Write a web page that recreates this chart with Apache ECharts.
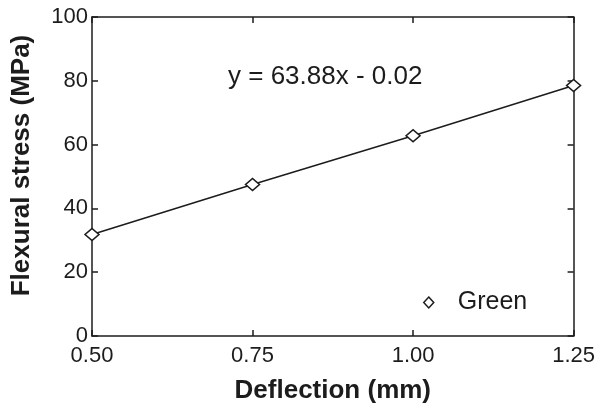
<!DOCTYPE html>
<html>
<head>
<meta charset="utf-8">
<script src="https://cdn.jsdelivr.net/npm/echarts@6/dist/echarts.min.js"></script>
<style>html,body{margin:0;padding:0;background:#fff}#c{width:598px;height:414px}</style>
</head>
<body>
<div id="c"></div>
<script>
var deflection = [0.50, 0.75, 1.00, 1.25];
var stressGreen = [31.8, 47.5, 62.8, 78.5];
var seriesName = 'Green';
var equationText = 'y = 63.88x - 0.02';
var xTitle = 'Deflection (mm)';
var yTitle = 'Flexural stress (MPa)';

var FONT = '"Liberation Sans", Arial, sans-serif';
var INK = '#1c1c1c';
var chart = echarts.init(document.getElementById('c'), null, {renderer: 'canvas'});

var data = deflection.map(function (x, i) { return [x, stressGreen[i]]; });

var xCommon = {
  type: 'value', min: 0.5, max: 1.25, interval: 0.25,
  axisLine: {show: true, onZero: false, lineStyle: {color: INK, width: 1.5}},
  axisTick: {show: true, inside: true, length: 6, lineStyle: {color: INK, width: 1.5}},
  splitLine: {show: false}
};
var yCommon = {
  type: 'value', min: 0, max: 100, interval: 20,
  axisLine: {show: true, onZero: false, lineStyle: {color: INK, width: 1.5}},
  axisTick: {show: true, inside: true, length: 6, lineStyle: {color: INK, width: 1.5}},
  splitLine: {show: false}
};

chart.setOption({
  animation: false,
  backgroundColor: '#fff',
  grid: {left: 92, right: 22, top: 17, bottom: 78},
  xAxis: [
    Object.assign({}, xCommon, {
      position: 'bottom',
      name: xTitle, nameLocation: 'middle', nameGap: 42,
      nameTextStyle: {fontFamily: FONT, fontSize: 26, fontWeight: 'bold', color: INK},
      axisLabel: {show: true, margin: 9, fontFamily: FONT, fontSize: 22, color: INK,
        formatter: function (v) { return v.toFixed(2); }}
    }),
    Object.assign({}, xCommon, {position: 'top', axisLabel: {show: false}})
  ],
  yAxis: [
    Object.assign({}, yCommon, {
      position: 'left',
      name: yTitle, nameLocation: 'middle', nameGap: 57, nameRotate: 90,
      nameTextStyle: {fontFamily: FONT, fontSize: 26, fontWeight: 'bold', color: INK, padding: [0, 0, 0, 22]},
      axisLabel: {show: true, margin: 4, fontFamily: FONT, fontSize: 22, color: INK}
    }),
    Object.assign({}, yCommon, {position: 'right', axisLabel: {show: false}})
  ],
  legend: {
    show: true, left: 418, top: 285, orient: 'vertical',
    itemWidth: 10, itemHeight: 11, itemGap: 0,
    data: [{name: seriesName, icon: 'path://M5,0 L10,5.5 L5,11 L0,5.5 Z',
      itemStyle: {color: '#fff', borderColor: INK, borderWidth: 1.5}}],
    textStyle: {fontFamily: FONT, fontSize: 25, color: INK, padding: [0, 0, 0, 19]}
  },
  graphic: [{
    type: 'text', left: 228, top: 64,
    style: {text: equationText, fontFamily: FONT, fontSize: 26, fill: INK}
  }],
  series: [{
    name: seriesName, type: 'line', xAxisIndex: 0, yAxisIndex: 0,
    data: data,
    symbol: 'diamond', symbolSize: [14, 12],
    showSymbol: true,
    lineStyle: {color: INK, width: 1.5},
    itemStyle: {color: '#fff', borderColor: INK, borderWidth: 1.5},
    z: 5
  }]
});
</script>
</body>
</html>
